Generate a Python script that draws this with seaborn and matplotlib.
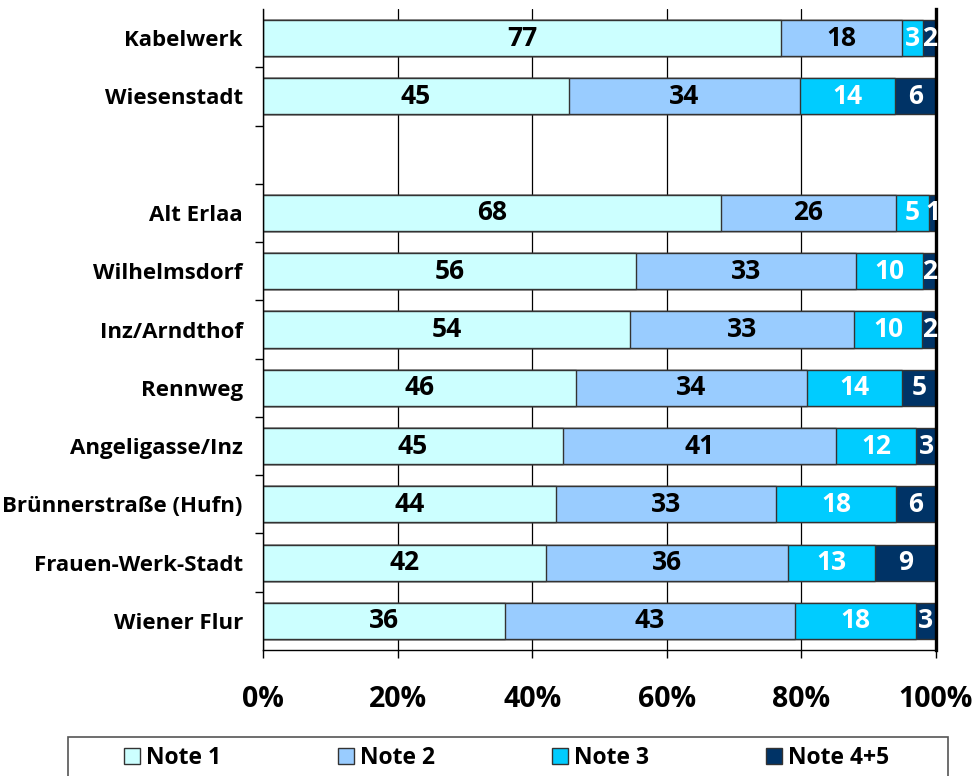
import numpy as np
import pandas as pd
import seaborn as sns
import matplotlib.pyplot as plt
from matplotlib.patches import Patch, Rectangle

# data (percent per grade)
stations = ["Kabelwerk", "Wiesenstadt", "Alt Erlaa", "Wilhelmsdorf", "Inz/Arndthof",
            "Rennweg", "Angeligasse/Inz", "Brünnerstraße (Hufn)", "Frauen-Werk-Stadt", "Wiener Flur"]
note1 = [77, 45, 68, 56, 54, 46, 45, 44, 42, 36]
note2 = [18, 34, 26, 33, 33, 34, 41, 33, 36, 43]
note3 = [3, 14, 5, 10, 10, 14, 12, 18, 13, 18]
note45 = [2, 6, 1, 2, 2, 5, 3, 6, 9, 3]
series_names = ["Note 1", "Note 2", "Note 3", "Note 4+5"]
colors = ["#CCFFFF", "#99CCFF", "#00CCFF", "#003366"]
text_colors = ["black", "black", "white", "white"]
# empty slot between Wiesenstadt and Alt Erlaa
order = stations[:2] + [""] + stations[2:]
xticks = [0, 20, 40, 60, 80, 100]

sns.set_theme(style="white")
plt.rcParams["font.family"] = ["Open Sans", "DejaVu Sans"]
plt.rcParams["font.weight"] = "bold"
plt.rcParams["text.color"] = "black"
plt.rcParams["xtick.color"] = "black"
plt.rcParams["ytick.color"] = "black"

vals = np.array([note1, note2, note3, note45], dtype=float)
pct = vals / vals.sum(axis=0) * 100
cum = np.cumsum(pct, axis=0)

fig = plt.figure(figsize=(9.76, 7.76), dpi=100)
ax = fig.add_axes([263 / 976, 1 - 650 / 776, 673 / 976, 641 / 776])

# stacked bars: draw cumulative totals from the longest down
for k in range(3, -1, -1):
    df = pd.DataFrame({"station": stations, "value": cum[k]})
    sns.barplot(data=df, x="value", y="station", order=order, orient="h",
                color=colors[k], saturation=1, width=0.62,
                edgecolor="#333333", linewidth=1, ax=ax, zorder=2)

# value labels
for k in range(4):
    for i, st in enumerate(stations):
        ypos = order.index(st)
        xpos = cum[k][i] - pct[k][i] / 2
        ax.text(xpos, ypos, str(int(vals[k][i])), ha="center", va="center",
                color=text_colors[k], fontsize=19, fontweight="bold", zorder=5)

ax.set_xlim(0, 100)
ax.set_ylim(len(order) - 0.5, -0.5)
ax.set_xticks(xticks)
ax.set_xticklabels([f"{t}%" for t in xticks], fontsize=20.5, fontweight="bold")
ax.set_xlabel("")
ax.set_ylabel("")
ax.tick_params(axis="x", length=6, width=1, color="black", labelcolor="black",
               direction="out", pad=19, bottom=True)
ax.tick_params(axis="y", which="major", length=0, pad=14.5, labelsize=16, labelcolor="black")
ax.set_yticks(np.arange(0.5, len(order) - 0.5), minor=True)
ax.tick_params(axis="y", which="minor", length=6, width=1, color="black", left=True)
for lab in ax.get_yticklabels():
    lab.set_fontweight("bold")

ax.set_axisbelow(True)
ax.xaxis.grid(True, color="black", linewidth=0.9)
ax.yaxis.grid(False)
ax.spines["top"].set_visible(False)
for s in ["left", "bottom"]:
    ax.spines[s].set_color("black")
    ax.spines[s].set_linewidth(1)
ax.spines["right"].set_color("black")
ax.spines["right"].set_linewidth(2.4)

# legend
handles = [Patch(facecolor=c, edgecolor="#333333", linewidth=1) for c in colors]
fig.legend(handles, series_names, loc="center", ncol=4, mode="expand",
           bbox_to_anchor=(108 / 976, 1 - 780 / 776, 797 / 976, 44 / 776),
           frameon=False, fontsize=16.5, handlelength=0.7, handleheight=0.7,
           handletextpad=0.25, borderpad=0.2)
fig.patches.append(Rectangle((68 / 976, -0.05), 880 / 976, 0.05 + 1 - 737 / 776,
                             transform=fig.transFigure, fill=False,
                             edgecolor="#555555", linewidth=1.2))

plt.savefig("out.png", dpi=100)
plt.close()
